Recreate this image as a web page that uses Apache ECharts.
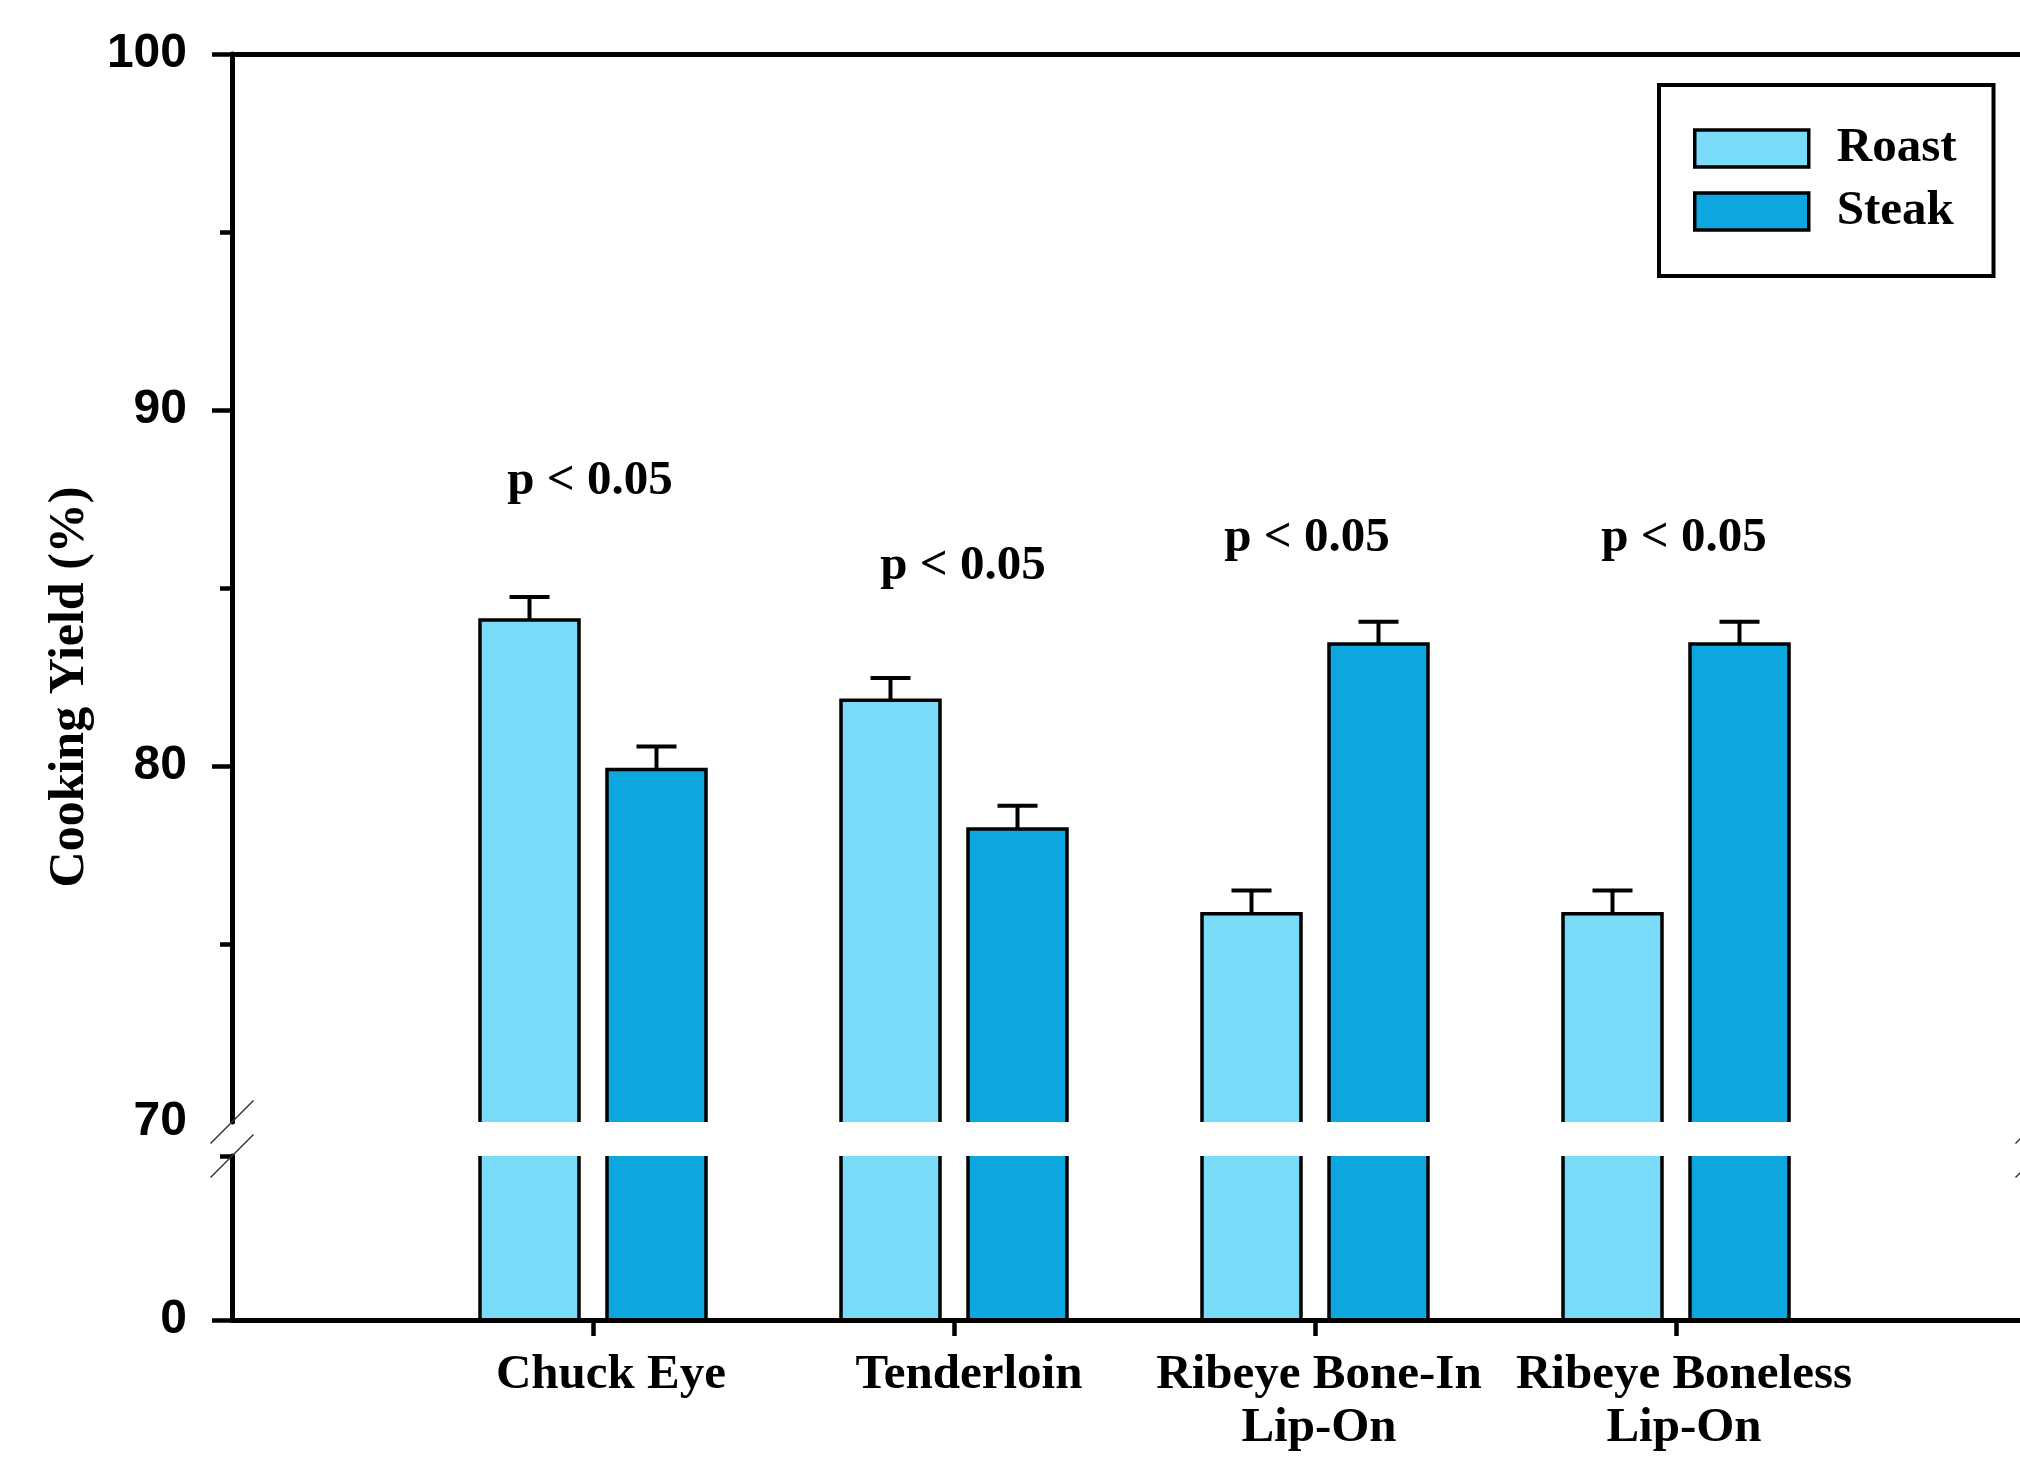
<!DOCTYPE html>
<html><head><meta charset="utf-8">
<script src="https://cdn.jsdelivr.net/npm/echarts@6/dist/echarts.min.js"></script>
<style>html,body{margin:0;padding:0;background:#fff}#c{width:2020px;height:1472px}</style>
</head><body><div id="c"></div>
<script>
// ---- data ----
const categories = ['', 'Chuck Eye', 'Tenderloin', 'Ribeye Bone-In\nLip-On', 'Ribeye Boneless\nLip-On', ''];
const roastMean = [84.1, 81.85, 75.85, 75.85];
const roastSE   = [0.65, 0.62, 0.65, 0.65];
const steakMean = [79.9, 78.23, 83.43, 83.43];
const steakSE   = [0.65, 0.65, 0.62, 0.62];
const pLabels   = ['p < 0.05', 'p < 0.05', 'p < 0.05', 'p < 0.05'];
const pLabelY   = [88.0, 85.6, 86.4, 86.4];
const yTicksUpper = [70, 80, 90, 100];
const yTicksLower = [0];

// ---- styles ----
const ROAST = '#79dbf8';
const STEAK = '#0ea6de';
const BAR_W = 99;
const HALF_STEP = 63.5;
const P_DX = [-3, 9, -8, 8];          // small horizontal nudges of the p-value notes (px)
const LABEL_DX = [18, 15, 4, 8];      // small horizontal nudges of category labels (px)
const SERIF = '"Liberation Serif", "Times New Roman", serif';
const SANS = '"Liberation Sans", Arial, sans-serif';

function upperBar(offset, color) {
  return function (params, api) {
    const i = api.value(0), v = api.value(1), e = api.value(2);
    const cs = params.coordSys;
    const bottom = cs.y + cs.height;
    const c = api.coord([i, v]);
    const cx = c[0] + offset, top = c[1];
    const ye = api.coord([i, v + e])[1];
    const x0 = cx - BAR_W / 2, x1 = cx + BAR_W / 2;
    return { type: 'group', children: [
      { type: 'rect', shape: { x: x0, y: top, width: BAR_W, height: bottom - top }, style: { fill: color } },
      { type: 'polyline', shape: { points: [[x0, bottom], [x0, top], [x1, top], [x1, bottom]] },
        style: { stroke: '#000', lineWidth: 3.5, fill: 'none', lineJoin: 'miter' } },
      { type: 'line', shape: { x1: cx, y1: top, x2: cx, y2: ye }, style: { stroke: '#000', lineWidth: 4 } },
      { type: 'line', shape: { x1: cx - 20, y1: ye, x2: cx + 20, y2: ye }, style: { stroke: '#000', lineWidth: 4 } }
    ]};
  };
}
function lowerBar(offset, color) {
  return function (params, api) {
    const i = api.value(0), v = api.value(1);
    const cs = params.coordSys;
    const base = api.coord([i, 0]);
    const cx = base[0] + offset;
    const top = Math.max(api.coord([i, v])[1], cs.y);
    const bottom = base[1];
    const x0 = cx - BAR_W / 2, x1 = cx + BAR_W / 2;
    return { type: 'group', children: [
      { type: 'rect', shape: { x: x0, y: top, width: BAR_W, height: bottom - top }, style: { fill: color } },
      { type: 'line', shape: { x1: x0, y1: top, x2: x0, y2: bottom }, style: { stroke: '#000', lineWidth: 3.5 } },
      { type: 'line', shape: { x1: x1, y1: top, x2: x1, y2: bottom }, style: { stroke: '#000', lineWidth: 3.5 } }
    ]};
  };
}
function annot(params, api) {
  const c = api.coord([api.value(0), api.value(1)]);
  return { type: 'text', x: c[0] + P_DX[params.dataIndex], y: c[1],
    style: { text: pLabels[params.dataIndex], font: 'bold 49px ' + SERIF, fill: '#000', align: 'center', verticalAlign: 'middle' } };
}

// rich styles to nudge each category label
const rich = {};
LABEL_DX.forEach((dx, k) => {
  rich['c' + (k + 1)] = { fontFamily: SERIF, fontWeight: 'bold', fontSize: 49, lineHeight: 53, color: '#000', padding: [0, 0, 0, 2 * dx] };
});
function catLabel(value, idx) {
  if (!value) return '';
  return value.split('\n').map(s => '{c' + idx + '|' + s + '}').join('\n');
}

const chart = echarts.init(document.getElementById('c'), null, { renderer: 'canvas' });
const axisLineStyle = { color: '#000', width: 5 };
const option = {
  animation: false,
  backgroundColor: '#fff',
  grid: [
    { left: 232, width: 1805, top: 54, bottom: 350, outerBoundsMode: 'none', containLabel: false },
    { left: 232, width: 1805, top: 1156, bottom: 152, outerBoundsMode: 'none', containLabel: false }
  ],
  xAxis: [
    { gridIndex: 0, type: 'category', data: categories, boundaryGap: false, position: 'top',
      axisLine: { onZero: false, lineStyle: axisLineStyle }, axisTick: { show: false }, axisLabel: { show: false }, z: 5 },
    { gridIndex: 1, type: 'category', data: categories, boundaryGap: false, position: 'bottom',
      axisLine: { onZero: false, lineStyle: axisLineStyle },
      axisTick: { show: true, length: 16, lineStyle: { color: '#000', width: 4.5 },
        interval: function (idx) { return idx > 0 && idx < categories.length - 1; } },
      axisLabel: { interval: 0, margin: 29, color: '#000', fontFamily: SERIF, fontWeight: 'bold', fontSize: 49, lineHeight: 53,
        formatter: catLabel, rich: rich },
      z: 5 }
  ],
  yAxis: [
    { gridIndex: 0, type: 'value', min: 70, max: 100, interval: 10, position: 'left',
      axisLine: { show: true, lineStyle: axisLineStyle },
      axisTick: { show: true, length: 20, lineStyle: { color: '#000', width: 4.5 }, customValues: [80, 90, 100] },
      minorTick: { show: true, splitNumber: 2, length: 12, lineStyle: { color: '#000', width: 4.5 } },
      splitLine: { show: false }, minorSplitLine: { show: false },
      axisLabel: { customValues: yTicksUpper, margin: 45, color: '#000', fontFamily: SANS, fontWeight: 'bold', fontSize: 48 },
      z: 5 },
    { gridIndex: 1, type: 'value', min: 0, max: 10, interval: 10, position: 'left',
      axisLine: { show: true, lineStyle: axisLineStyle },
      axisTick: { show: true, length: 20, lineStyle: { color: '#000', width: 4.5 }, customValues: [0] },
      splitLine: { show: false },
      axisLabel: { customValues: yTicksLower, margin: 45, color: '#000', fontFamily: SANS, fontWeight: 'bold', fontSize: 48 },
      z: 5 },
    { gridIndex: 1, type: 'value', min: 0, max: 10, interval: 10, position: 'left',
      axisLine: { show: false },
      axisTick: { show: true, length: 12, lineStyle: { color: '#000', width: 4.5 }, customValues: [10] },
      splitLine: { show: false }, axisLabel: { show: false }, z: 5 }
  ],
  legend: {
    orient: 'vertical', left: 1659, top: 85, padding: [39, 37, 40, 34],
    itemWidth: 114, itemHeight: 37, itemGap: 14, icon: 'rect',
    borderColor: '#000', borderWidth: 4, backgroundColor: '#fff', selectedMode: false,
    itemStyle: { borderColor: '#000', borderWidth: 3.5 },
    textStyle: { fontFamily: SERIF, fontWeight: 'bold', fontSize: 49, color: '#000', lineHeight: 37, padding: [0, 0, 0, 23] },
    data: [ { name: 'Roast', itemStyle: { color: ROAST } }, { name: 'Steak', itemStyle: { color: STEAK } } ]
  },
  series: [
    { name: 'Roast', type: 'custom', xAxisIndex: 0, yAxisIndex: 0, itemStyle: { color: ROAST },
      renderItem: upperBar(-HALF_STEP, ROAST), data: roastMean.map((v, k) => [k + 1, v, roastSE[k]]) },
    { name: 'Steak', type: 'custom', xAxisIndex: 0, yAxisIndex: 0, itemStyle: { color: STEAK },
      renderItem: upperBar(HALF_STEP, STEAK), data: steakMean.map((v, k) => [k + 1, v, steakSE[k]]) },
    { name: 'Roast', type: 'custom', xAxisIndex: 1, yAxisIndex: 1, itemStyle: { color: ROAST },
      renderItem: lowerBar(-HALF_STEP, ROAST), data: roastMean.map((v, k) => [k + 1, v]) },
    { name: 'Steak', type: 'custom', xAxisIndex: 1, yAxisIndex: 1, itemStyle: { color: STEAK },
      renderItem: lowerBar(HALF_STEP, STEAK), data: steakMean.map((v, k) => [k + 1, v]) },
    { name: 'p', type: 'custom', xAxisIndex: 0, yAxisIndex: 0, silent: true,
      renderItem: annot, data: pLabelY.map((y, k) => [k + 1, y]) }
  ]
};
chart.setOption(option);

// break marks on axes and rotated y-axis title
const gfx = [];
function brk(p) {
  return { type: 'line', z: 100, shape: { x1: p[0] - 21.5, y1: p[1] + 21.5, x2: p[0] + 21.5, y2: p[1] - 21.5 },
    style: { stroke: '#333', lineWidth: 1.5 } };
}
const last = categories.length - 1;
[[0, 70, 0], [last, 70, 0]].forEach(a => gfx.push(brk(chart.convertToPixel({ seriesIndex: a[2] }, [a[0], a[1]]))));
[[0, 10, 2], [last, 10, 2]].forEach(a => gfx.push(brk(chart.convertToPixel({ seriesIndex: a[2] }, [a[0], a[1]]))));
const yTop = chart.convertToPixel({ seriesIndex: 0 }, [0, 100])[1];
const yBot = chart.convertToPixel({ seriesIndex: 2 }, [0, 0])[1];
gfx.push({ type: 'text', x: 70, y: (yTop + yBot) / 2, rotation: Math.PI / 2, z: 100,
  style: { text: 'Cooking Yield (%)', font: 'bold 50px ' + SERIF, fill: '#000', align: 'center', verticalAlign: 'middle' } });
chart.setOption({ graphic: gfx });
</script>
</body></html>
